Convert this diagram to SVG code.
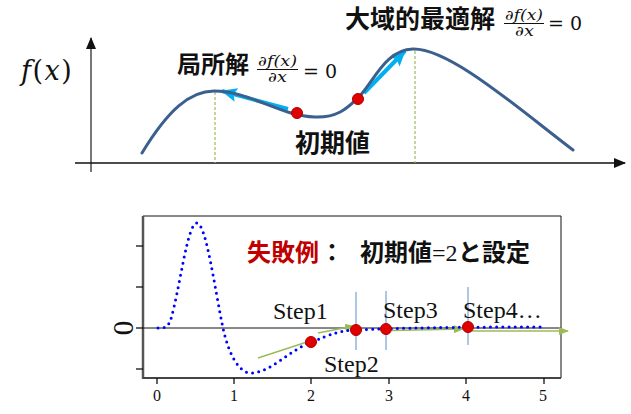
<svg xmlns="http://www.w3.org/2000/svg" width="631" height="414" viewBox="0 0 631 414">
  <defs>
    <style>
      .cjk { font-family: "Noto Sans CJK JP", "Noto Sans CJK SC", sans-serif; font-weight: bold; fill: #111; }
      .math { font-family: "DejaVu Serif", "Liberation Serif", serif; fill: #111; }
      .it { font-style: italic; }
      .serif { font-family: "Liberation Serif", "DejaVu Serif", serif; fill: #111; }
      .curve { fill: none; stroke: #3B5F8E; stroke-width: 3; stroke-linecap: round; }
      .vdash { stroke: #9BBB59; stroke-width: 1.2; stroke-dasharray: 3 2; }
      .cyan { stroke: #00B0F0; stroke-width: 4; fill: none; }
      .dot { fill: #E00000; stroke: #B00000; stroke-width: 1; }
      .green { stroke: #9BBB59; stroke-width: 1.5; fill: none; }
      .vblue { stroke: #5B8FC9; stroke-width: 1; }
      .tick { stroke: #111; stroke-width: 1.3; }
    </style>
    <marker id="axArrow" markerUnits="userSpaceOnUse" markerWidth="12" markerHeight="10" refX="11" refY="5" orient="auto">
      <path d="M0,0 L12,5 L0,10 z" fill="#111"/>
    </marker>
    <marker id="cyanArrow" markerUnits="userSpaceOnUse" markerWidth="16" markerHeight="14" refX="15" refY="7" orient="auto">
      <path d="M0,0 L16,7 L0,14 L3,7 z" fill="#00B0F0"/>
    </marker>
    <marker id="greenArrow" markerUnits="userSpaceOnUse" markerWidth="10" markerHeight="8" refX="9" refY="4" orient="auto">
      <path d="M0,0 L10,4 L0,8 z" fill="#9BBB59"/>
    </marker>
  </defs>

  <rect x="0" y="0" width="631" height="414" fill="#ffffff"/>

  <!-- ===== Upper chart ===== -->
  <g id="connectors">
    <line x1="91" y1="172" x2="91" y2="38" stroke="#777" stroke-width="2" marker-end="url(#axArrow)"/>
    <line x1="75" y1="163" x2="625" y2="163" stroke="#111" stroke-width="1.5" marker-end="url(#axArrow)"/>
    <line class="vdash" x1="215" y1="92" x2="215" y2="163"/>
    <line class="vdash" x1="415" y1="51" x2="415" y2="163"/>
    <line class="cyan" x1="288" y1="109" x2="222" y2="91" marker-end="url(#cyanArrow)"/>
    <line class="cyan" x1="364" y1="93" x2="405" y2="51" marker-end="url(#cyanArrow)"/>
  </g>

  <g id="curve-top">
    <path class="curve" d="M142,153 C168,110 190,91 214,91 C250,91 280,116 315,117 C340,118 350,105 358,98 C375,80 385,50 413,49 C450,48 520,110 573,150"/>
  </g>

  <g id="start-points-top">
    <circle class="dot" cx="297" cy="113" r="5.5"/>
    <circle class="dot" cx="358" cy="99" r="5.5"/>
  </g>

  <g id="label-fx">
    <text class="math" x="21" y="80" font-size="27" letter-spacing="1.5"><tspan class="it">f</tspan>(<tspan class="it">x</tspan>)</text>
  </g>

  <g id="label-local">
    <text class="cjk" x="177" y="73" font-size="24">局所解</text>
    <text class="math it" x="258" y="66" font-size="14" textLength="39" lengthAdjust="spacingAndGlyphs">∂f(x)</text>
    <line x1="257" y1="69.5" x2="298" y2="69.5" stroke="#111" stroke-width="1.2"/>
    <text class="math it" x="268" y="82" font-size="14" textLength="19" lengthAdjust="spacingAndGlyphs">∂x</text>
    <text class="math" x="303" y="78" font-size="19">= 0</text>
  </g>

  <g id="label-global">
    <text class="cjk" x="345" y="28" font-size="25">大域的最適解</text>
    <text class="math it" x="505" y="20" font-size="14" textLength="38" lengthAdjust="spacingAndGlyphs">∂f(x)</text>
    <line x1="504" y1="23.5" x2="544" y2="23.5" stroke="#111" stroke-width="1.2"/>
    <text class="math it" x="515" y="36" font-size="14" textLength="19" lengthAdjust="spacingAndGlyphs">∂x</text>
    <text class="math" x="548" y="30" font-size="19">= 0</text>
  </g>

  <g id="label-initial">
    <text class="cjk" x="295" y="152" font-size="25">初期値</text>
  </g>

  <!-- ===== Lower chart ===== -->
  <g id="plot-frame">
    <line x1="143" y1="216" x2="561" y2="216" stroke="#111" stroke-width="1"/>
    <line x1="561" y1="216" x2="561" y2="378" stroke="#111" stroke-width="1"/>
    <line x1="143" y1="216" x2="143" y2="379" stroke="#555" stroke-width="2.5"/>
    <line x1="143" y1="378" x2="561" y2="378" stroke="#444" stroke-width="2"/>
    <line class="tick" x1="136" y1="246" x2="143" y2="246"/>
    <line class="tick" x1="136" y1="287" x2="143" y2="287"/>
    <line class="tick" x1="136" y1="328" x2="143" y2="328"/>
    <line class="tick" x1="136" y1="369" x2="143" y2="369"/>
    <line class="tick" x1="157" y1="378" x2="157" y2="384"/>
    <line class="tick" x1="234" y1="378" x2="234" y2="384"/>
    <line class="tick" x1="311" y1="378" x2="311" y2="384"/>
    <line class="tick" x1="389" y1="378" x2="389" y2="384"/>
    <line class="tick" x1="466" y1="378" x2="466" y2="384"/>
    <line class="tick" x1="544" y1="378" x2="544" y2="384"/>
    <g class="serif" font-size="16" text-anchor="middle">
      <text x="157" y="401">0</text>
      <text x="234" y="401">1</text>
      <text x="311" y="401">2</text>
      <text x="389" y="401">3</text>
      <text x="466" y="401">4</text>
      <text x="543" y="401">5</text>
    </g>
    <text class="serif" x="133" y="328" font-size="29" text-anchor="middle" transform="rotate(-90 133 328)">0</text>
    <line x1="143" y1="328" x2="561" y2="328" stroke="#111" stroke-width="1"/>
  </g>

  <g id="steps-connectors">
    <line class="green" x1="258" y1="358" x2="310" y2="341"/>
    <line class="green" x1="318" y1="333" x2="354" y2="326" marker-end="url(#greenArrow)"/>
    <line class="green" x1="392" y1="330.5" x2="463" y2="329" marker-end="url(#greenArrow)"/>
    <line class="green" x1="472" y1="331" x2="568" y2="331" marker-end="url(#greenArrow)"/>
    <line class="vblue" x1="356" y1="292" x2="356" y2="350"/>
    <line class="vblue" x1="386" y1="291" x2="386" y2="350"/>
    <line class="vblue" x1="468" y1="287" x2="468" y2="345"/>
  </g>

  <g id="curve-bottom">
    <path d="M158,328 C164,328 166,328 170,322 C180,290 187,223 197,223 C206,223 215,290 223,328 C229,355 239,373 251,373 C270,373 290,350 311,342 C330,335 340,330 356,330 C400,328 450,327 541,327" fill="none" stroke="#0000FF" stroke-width="3" stroke-linecap="round" stroke-dasharray="0 6.2"/>
  </g>

  <g id="step-points">
    <circle class="dot" cx="311" cy="342" r="5.5"/>
    <circle class="dot" cx="356" cy="330" r="5.5"/>
    <circle class="dot" cx="386" cy="329" r="5.5"/>
    <circle class="dot" cx="468" cy="327" r="5.5"/>
  </g>

  <g id="step-labels" class="serif" font-size="24">
    <text x="273" y="319">Step1</text>
    <text x="324" y="372">Step2</text>
    <text x="383" y="318">Step3</text>
    <text x="463" y="318">Step4…</text>
  </g>

  <g id="title-failure">
    <text class="cjk" x="247" y="261" font-size="24" style="fill:#C00000">失敗例</text>
    <text class="cjk" x="320" y="261" font-size="24">：</text>
    <text class="cjk" x="360" y="261" font-size="24">初期値</text>
    <text class="serif" x="432" y="261" font-size="24">=2</text>
    <text class="cjk" x="458" y="261" font-size="24">と設定</text>
  </g>
</svg>
